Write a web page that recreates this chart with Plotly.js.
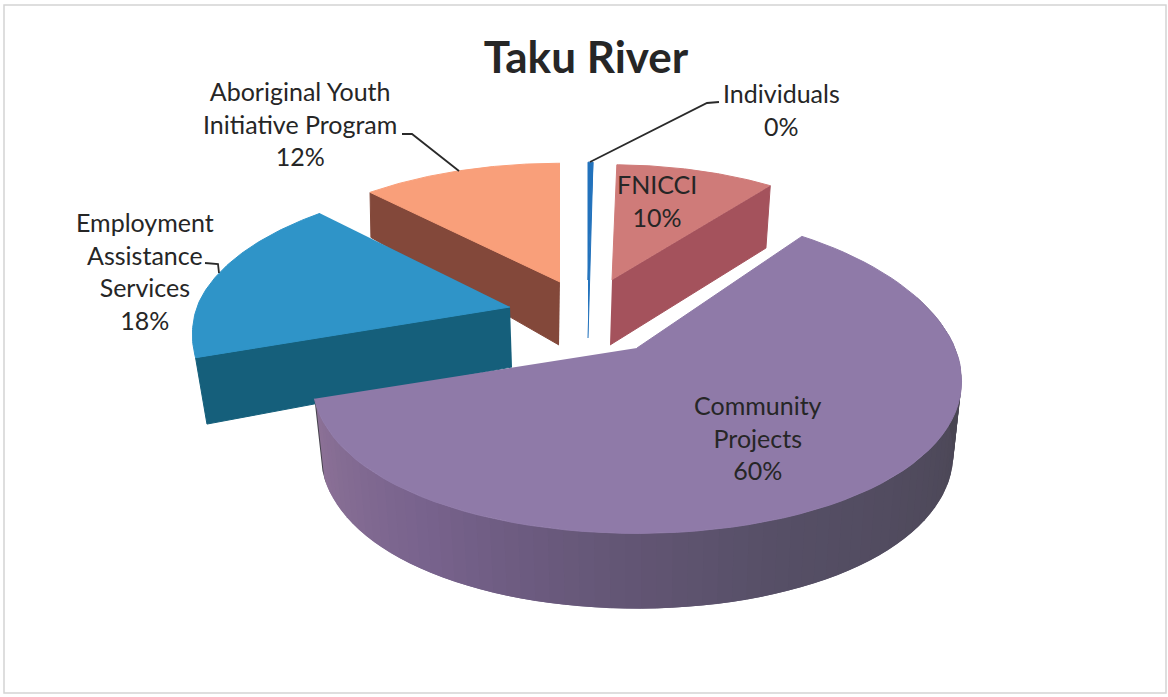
<!DOCTYPE html>
<html>
<head>
<meta charset="utf-8">
<script src="https://cdn.plot.ly/plotly-3.0.1.min.js"></script>
<style>html,body{margin:0;padding:0;background:#fff}</style>
</head>
<body>
<div id="chart" style="width:1168px;height:697px"></div>
<script>
// ---- data ----
const categories = ['Individuals', 'FNICCI', 'Community Projects', 'Employment Assistance Services', 'Aboriginal Youth Initiative Program'];
const values = [0.3, 10, 60, 18, 12];
const labelLines = [['Individuals'], ['FNICCI'], ['Community', 'Projects'], ['Employment', 'Assistance', 'Services'], ['Aboriginal Youth', 'Initiative Program']];

// ---- styles and projection settings of the tilted, exploded pie ----
const topColors = ['#2272bc', '#cf7b79', '#8f7aa8', '#2f94c8', '#f99f7a'];
const sideColors = ['#2272bc', '#a4525c', '#7a6490', '#155f7b', '#83483a'];
const slicePose = [
  {ax: 588, ay: 280, a: 300, b: 134, bf: 134, kx: 0.137, d0: 58, c: 1.0, shrink: 1, dx: 0},
  {ax: 612, ay: 280, a: 292, b: 131, bf: 131, kx: 0.137, d0: 65, c: 0.05, shrink: 0.985, dx: -2},
  {ax: 637, ay: 348, a: 318, b: 155, bf: 160, kx: 0.2, d0: 71, c: 0.06, shrink: 0.975, dx: 0},
  {ax: 510, ay: 307, a: 313, b: 141, bf: 160, kx: 0.17, d0: 60, c: 0.35, shrink: 0.97, dx: 2},
  {ax: 560, ay: 282, a: 306, b: 135, bf: 135, kx: 0.137, d0: 63, c: 0.39, shrink: 0.99, dx: -1}
];
const perspective = 0.137;
const wallStops = [[252, [141,114,151]], [215, [120,99,141]], [185, [100,86,118]], [160, [86,79,102]], [120, [78,73,90]], [85, [70,67,77]]];
const labelPos = [[781, 109], [657, 200], [758, 437], [145, 271], [300, 123]];
const leaders = [
  'M590,162 L707,103 L719,102',
  'M402,134 L412,134 L459,171',
  'M205,263 L218,264 L219,273'
];

// ---- geometry computed from the values ----
const total = values.reduce((s, v) => s + v, 0);
let run = 0;
const spans = values.map(v => { const st = run * 3.6 * 100 / total; run += v; return [st, run * 3.6 * 100 / total]; });
const rad = d => d * Math.PI / 180;

function topPt(p, deg) {
  const u = Math.sin(rad(deg)), v = Math.cos(rad(deg));
  const b = v < 0 ? p.bf : p.b;
  return [p.ax + p.a * u / (1 + p.kx * v), p.ay - b * v / (1 + perspective * v)];
}
function botPt(p, deg) {
  const t = topPt(p, deg), v = Math.cos(rad(deg));
  return [p.ax + (t[0] - p.ax) * p.shrink + p.dx, t[1] + p.d0 * (1 - p.c * v)];
}
function apexBot(p) { return [p.ax + p.dx, p.ay + p.d0]; }
function arc(fn, p, from, to, n) {
  const out = [];
  for (let i = 0; i <= n; i++) out.push(fn(p, from + (to - from) * i / n));
  return out;
}
function poly(points, color, name, w) {
  return {
    type: 'scatter', mode: 'lines', x: points.map(q => q[0]), y: points.map(q => q[1]),
    fill: 'toself', fillcolor: color, line: {color: color, width: w === undefined ? 1 : w},
    name: name, hoverinfo: 'name', showlegend: false
  };
}
function wallColor(deg) {
  for (let i = 0; i < wallStops.length - 1; i++) {
    const A = wallStops[i], B = wallStops[i + 1];
    if (deg <= A[0] && deg >= B[0]) {
      const t = (A[0] - deg) / (A[0] - B[0]);
      const c = A[1].map((x, k) => Math.round(x + (B[1][k] - x) * t));
      return 'rgb(' + c.join(',') + ')';
    }
  }
  return 'rgb(' + wallStops[wallStops.length - 1][1].join(',') + ')';
}

const traces = [];
function radialWall(i, deg) {
  const p = slicePose[i];
  traces.push(poly([[p.ax, p.ay], topPt(p, deg), botPt(p, deg), apexBot(p)], sideColors[i], categories[i]));
}
function topFace(i) {
  const p = slicePose[i], sp = spans[i];
  traces.push(poly([[p.ax, p.ay]].concat(arc(topPt, p, sp[0], sp[1], 80)), topColors[i], categories[i]));
}
// back to front
radialWall(4, spans[4][0]); topFace(4);
radialWall(1, spans[1][1]); topFace(1);
radialWall(0, spans[0][1]); topFace(0);
radialWall(3, spans[3][0]); topFace(3);
// outer wall of the large slice, in shaded bands painted left to right with overlap
{
  const p = slicePose[2], sp = spans[2], n = 80, from = sp[1], to = 70;
  for (let i = 0; i < n; i++) {
    const d0 = from + (to - from) * i / n, d1 = from + (to - from) * (i + 2) / n;
    const end = Math.max(d1, to);
    const pts = arc(topPt, p, d0, end, 3).concat(arc(botPt, p, end, d0, 3));
    traces.push(poly(pts, wallColor(d0), categories[2], 0));
  }
}
topFace(2);

const annotations = categories.map((c, i) => ({
  x: labelPos[i][0], y: labelPos[i][1], xref: 'x', yref: 'y',
  text: labelLines[i].concat([Math.round(values[i]) + '%']).join('<br>'),
  showarrow: false, align: 'center', xanchor: 'center', yanchor: 'middle',
  font: {family: 'Lato, sans-serif', size: 25, color: '#262626'}
}));

const shapes = [{type: 'rect', xref: 'x', yref: 'y', x0: 4, x1: 1166, y0: 5, y1: 693,
  line: {color: '#d4d4d4', width: 1.5}, fillcolor: 'rgba(0,0,0,0)', layer: 'below'}]
  .concat(leaders.map(d => ({type: 'path', xref: 'x', yref: 'y', path: d, line: {color: '#2a2a2a', width: 1.8}})));

const layout = {
  width: 1168, height: 697, autosize: false,
  margin: {l: 0, r: 0, t: 0, b: 0},
  paper_bgcolor: '#ffffff', plot_bgcolor: '#ffffff',
  showlegend: false,
  title: {text: '<b>Taku River</b>', x: 586 / 1168, xanchor: 'center', y: 1 - 58 / 697, yanchor: 'middle',
    font: {family: 'Lato, sans-serif', size: 44, color: '#262626'}},
  xaxis: {range: [0, 1168], visible: false, fixedrange: true},
  yaxis: {range: [697, 0], visible: false, fixedrange: true},
  annotations: annotations, shapes: shapes
};
Plotly.newPlot('chart', traces, layout, {displayModeBar: false, staticPlot: true});
</script>
</body>
</html>
